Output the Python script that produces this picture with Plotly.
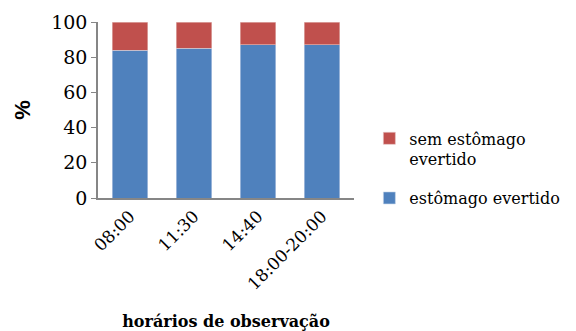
import plotly.graph_objects as go

categories = ["08:00", "11:30", "14:40", "18:00-20:00"]
evertido = [84, 85, 87, 87]
sem_evertido = [16, 15, 13, 13]

FONT = "DejaVu Serif"

fig = go.Figure()
fig.add_trace(go.Bar(
    x=categories, y=evertido, name="estômago evertido",
    marker=dict(color="#4F81BD", line=dict(color="#C9D6EA", width=0.6)),
    legendgroup="evertido", legendrank=2,
))
fig.add_trace(go.Bar(
    x=categories, y=sem_evertido, name="sem estômago<br>evertido",
    marker=dict(color="#C0504D", line=dict(color="#E6C3C2", width=0.6)),
    legendgroup="sem", legendrank=1,
))

fig.update_layout(
    barmode="stack",
    bargap=0.44,
    width=576, height=331,
    margin=dict(l=98, r=222, t=22, b=133, autoexpand=False),
    plot_bgcolor="white", paper_bgcolor="white",
    font=dict(family=FONT, size=17, color="black"),
    legend=dict(
        x=1.06, y=0.435, xanchor="left", yanchor="top",
        traceorder="grouped", tracegroupgap=15, valign="top",
        font=dict(family=FONT, size=16, color="black"),
        itemwidth=30,
    ),
    xaxis=dict(
        tickangle=-45, showline=True, linecolor="#868686", linewidth=1.5,
        ticks="", tickfont=dict(family=FONT, size=17), automargin=False,
        title=dict(text="<b>horários de observação</b>",
                   font=dict(family=FONT, size=16), standoff=30),
    ),
    yaxis=dict(
        range=[0, 100], dtick=20, showgrid=False, showline=True,
        linecolor="#868686", linewidth=1.5, ticks="outside", ticklen=5,
        tickcolor="#868686", tickfont=dict(family=FONT, size=19), zeroline=False,
        automargin=False,
        title=dict(text="<b>%</b>", font=dict(family="Liberation Sans", size=22), standoff=14),
    ),
)

fig.write_html("out.html")
